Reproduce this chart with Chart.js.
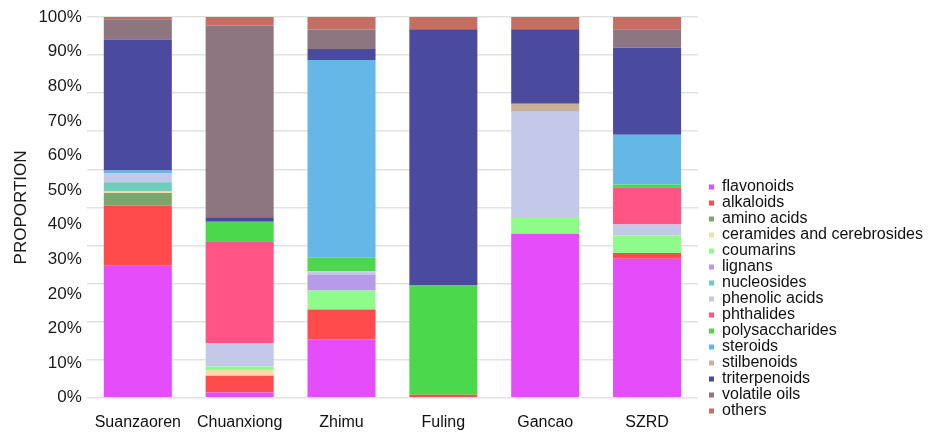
<!DOCTYPE html>
<html>
<head>
<meta charset="utf-8">
<script src="https://cdn.jsdelivr.net/npm/chart.js@4.4.1/dist/chart.umd.min.js"></script>
<style>
  html, body { margin: 0; padding: 0; background: #fff; }
  #wrap { width: 952px; height: 434px; position: relative; }
</style>
</head>
<body>
<div id="wrap"><canvas id="chart"></canvas></div>
<script>
// categories and values (percent of each bar)
const categories = ['Suanzaoren', 'Chuanxiong', 'Zhimu', 'Fuling', 'Gancao', 'SZRD']
const tickLabels = ['0%', '10%', '20%', '20%', '30%', '40%', '50%', '60%', '70%', '80%', '90%', '100%']

const flavonoids      = [34.7, 1.4, 15.3, 0, 43.1, 36.5]
const alkaloids       = [15.8, 4.4, 7.9, 0.8, 0, 1.5]
const aminoAcids      = [3.3, 0, 0, 0, 0, 0]
const ceramides       = [0.4, 1.5, 0, 0, 0, 0]
const coumarins       = [0, 0.9, 5.0, 0, 4.4, 4.6]
const lignans         = [0, 0, 4.2, 0, 0, 0]
const nucleosides     = [2.4, 0, 0, 0, 0, 0]
const phenolicAcids   = [2.3, 6.2, 0.8, 0, 27.6, 2.9]
const phthalides      = [0, 26.5, 0, 0, 0, 9.8]
const polysaccharides = [0, 5.3, 3.6, 28.7, 0, 0.7]
const steroids        = [0.8, 0, 51.9, 0, 0, 13.1]
const stilbenoids     = [0, 0, 0, 0, 2.1, 0]
const triterpenoids   = [34.4, 1.2, 2.9, 67.3, 19.6, 22.8]
const volatileOils    = [5.3, 50.4, 5.1, 0, 0, 4.9]
const others          = [0.6, 2.2, 3.3, 3.2, 3.2, 3.2]

const series = [
  ['flavonoids', flavonoids, '#e54cfa'],
  ['alkaloids', alkaloids, '#ff4b4b'],
  ['amino acids', aminoAcids, '#78a86e'],
  ['ceramides and cerebrosides', ceramides, '#f5dcaa'],
  ['coumarins', coumarins, '#8ffb8a'],
  ['lignans', lignans, '#b59be8'],
  ['nucleosides', nucleosides, '#6ecdbb'],
  ['phenolic acids', phenolicAcids, '#c4c9ea'],
  ['phthalides', phthalides, '#ff5484'],
  ['polysaccharides', polysaccharides, '#4cd84c'],
  ['steroids', steroids, '#65b8e6'],
  ['stilbenoids', stilbenoids, '#c8b09a'],
  ['triterpenoids', triterpenoids, '#4a4b9f'],
  ['volatile oils', volatileOils, '#8e7681'],
  ['others', others, '#c46e64']
]

const datasets = series.map(([label, data, color]) => ({
  label: label,
  data: data,
  backgroundColor: color,
  borderWidth: 0,
  categoryPercentage: 1,
  barPercentage: 0.668,
  yAxisID: 'y'
}))

Chart.defaults.font.family = '"Liberation Sans", Arial, sans-serif'
Chart.defaults.color = '#1a1a1a'

new Chart(document.getElementById('chart').getContext('2d'), {
  type: 'bar',
  data: { labels: categories, datasets: datasets },
  options: {
    responsive: true,
    maintainAspectRatio: false,
    animation: false,
    layout: { padding: { top: 17, left: 3, right: 19, bottom: 0 } },
    plugins: {
      tooltip: { enabled: false },
      legend: {
        position: 'right',
        align: 'start',
        maxWidth: 280,
        title: { display: true, text: ' ', font: { size: 10 }, padding: { top: 150, bottom: 0 } },
        labels: {
          boxWidth: 5,
          boxHeight: 5,
          padding: 0,
          color: '#111',
          font: { size: 16 }
        }
      }
    },
    scales: {
      x: {
        stacked: true,
        grid: { display: true, drawOnChartArea: false, drawTicks: true, tickLength: 13, color: 'rgba(0,0,0,0)' },
        border: { display: false },
        ticks: { padding: 2, color: '#111', font: { size: 16 } }
      },
      yl: {
        position: 'left',
        min: 0,
        max: 11,
        grid: { display: false, drawTicks: false },
        border: { display: false },
        ticks: {
          stepSize: 1,
          padding: 5,
          color: '#1a1a1a',
          font: { size: 17 },
          callback: (v, i) => tickLabels[i]
        },
        title: {
          display: true,
          text: 'PROPORTION',
          color: '#1a1a1a',
          font: { size: 17 },
          padding: { top: 8, bottom: 2 }
        }
      },
      y: {
        position: 'left',
        stacked: true,
        min: 0,
        max: 100,
        grid: { color: '#e2e2e2', lineWidth: 1.5, drawTicks: false },
        border: { display: false },
        ticks: { display: false, stepSize: 10 }
      },
      yr: {
        position: 'right',
        grid: { display: false, drawTicks: false },
        border: { display: false },
        ticks: { display: false },
        afterFit: (scale) => { scale.width = 11 }
      }
    }
  }
})
</script>
</body>
</html>
